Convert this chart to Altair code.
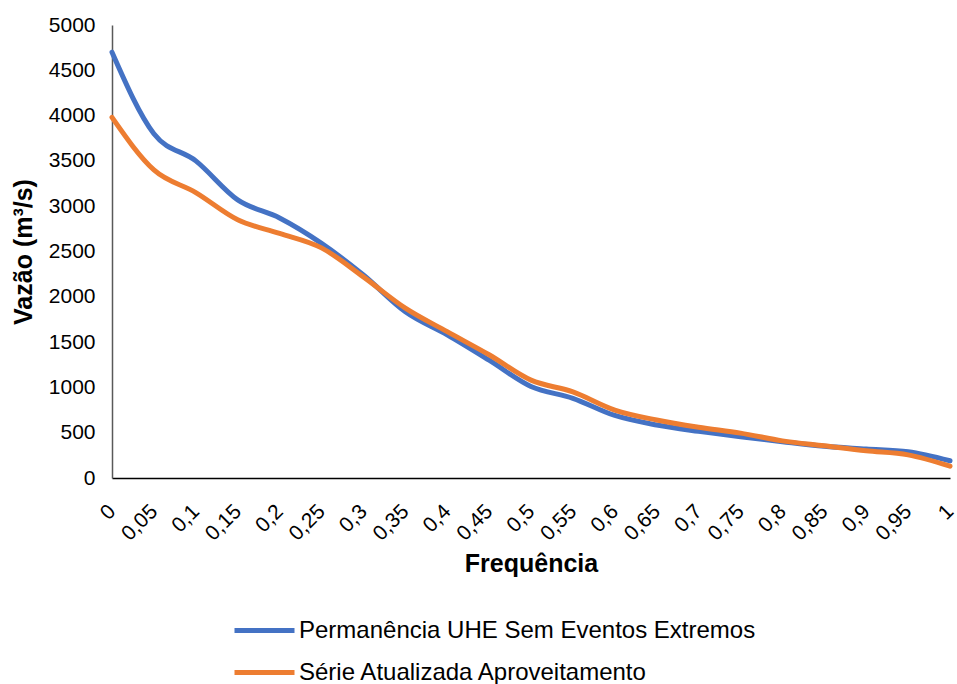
import altair as alt
import pandas as pd

# Frequency of exceedance (category labels) and flows in m³/s
freq_labels = ["0", "0,05", "0,1", "0,15", "0,2", "0,25", "0,3", "0,35", "0,4", "0,45",
               "0,5", "0,55", "0,6", "0,65", "0,7", "0,75", "0,8", "0,85", "0,9", "0,95", "1"]

serie_sem_extremos = [4700, 3800, 3500, 3070, 2870, 2590, 2240, 1835, 1580, 1300,
                      1010, 880, 690, 585, 515, 455, 400, 350, 320, 290, 190]
serie_atualizada = [3980, 3400, 3150, 2850, 2700, 2540, 2220, 1875, 1615, 1360,
                    1080, 950, 750, 640, 560, 495, 410, 355, 300, 255, 130]

nome_azul = "Permanência UHE Sem Eventos Extremos"
nome_laranja = "Série Atualizada Aproveitamento"

df = pd.concat([
    pd.DataFrame({"freq": freq_labels, "vazao": serie_sem_extremos, "serie": nome_azul}),
    pd.DataFrame({"freq": freq_labels, "vazao": serie_atualizada, "serie": nome_laranja}),
])

FONT = "Liberation Sans"

chart = alt.Chart(df).mark_line(
    interpolate="monotone", strokeWidth=5, strokeCap="round"
).encode(
    x=alt.X("freq:O", sort=freq_labels,
            scale=alt.Scale(type="point", padding=0),
            axis=alt.Axis(title="Frequência", labelAngle=-45, labelAlign="right",
                          labelBaseline="middle", labelFontSize=21,
                          labelColor="#000000", labelPadding=30, ticks=False,
                          domainColor="#000000", domainWidth=1.5,
                          titleFontSize=25, titleFontWeight="bold", titleColor="#000000",
                          titlePadding=8)),
    y=alt.Y("vazao:Q", scale=alt.Scale(domain=[0, 5000], nice=False),
            axis=alt.Axis(title="Vazão (m³/s)", values=list(range(0, 5001, 500)),
                          format="d", grid=False, ticks=False, labelFontSize=21,
                          labelColor="#000000", labelPadding=17,
                          domainColor="#595959", domainWidth=1.5,
                          titleFontSize=25, titleFontWeight="bold", titleColor="#000000",
                          titlePadding=12)),
    color=alt.Color("serie:N", sort=[nome_azul, nome_laranja],
                    scale=alt.Scale(domain=[nome_azul, nome_laranja],
                                    range=["#4472C4", "#ED7D31"]),
                    legend=alt.Legend(title=None, orient="none", legendX=130, legendY=583,
                                      direction="vertical", symbolType="M-1.5,0H1.5",
                                      symbolStrokeWidth=5, symbolSize=1600,
                                      labelFontSize=24, labelColor="#000000",
                                      labelLimit=800, labelOffset=12, rowPadding=7)),
).properties(
    width=838, height=453,
    autosize=alt.AutoSizeParams(type="none"),
    padding={"left": 112, "top": 25, "right": 7, "bottom": 206},
).configure(
    font=FONT,
).configure_view(stroke=None)

chart.save("out.html", embed_options={"renderer": "svg", "actions": False})
